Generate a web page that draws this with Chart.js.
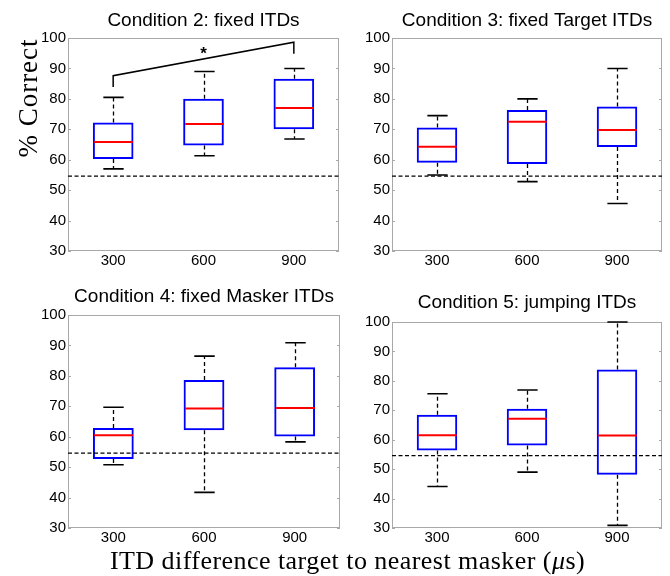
<!DOCTYPE html>
<html>
<head>
<meta charset="utf-8">
<script src="https://cdn.jsdelivr.net/npm/chart.js@4.4.1/dist/chart.umd.min.js"></script>
<style>
  body { margin: 0; background: #fff; }
  #wrap { position: relative; width: 670px; height: 576px; overflow: hidden; background: #fff; }
  #wrap canvas { position: absolute; }
  #ytitle {
    position: absolute; left: 28px; top: 98px; width: 200px; height: 28px; margin-left: -100px; margin-top: -14px;
    text-align: center; font-family: 'Liberation Serif', serif; font-size: 27px; line-height: 28px;
    letter-spacing: 1px; white-space: nowrap;
    transform: rotate(-90deg);
  }
  #xtitle {
    position: absolute; left: 47.5px; width: 600px; top: 548px; text-align: center; white-space: nowrap;
    font-family: 'Liberation Serif', serif; font-size: 26px; line-height: 26px; letter-spacing: 0.45px;
  }
</style>
</head>
<body>
<div id="wrap">
  <canvas id="c2" width="344" height="276" style="left:0;top:0"></canvas>
  <canvas id="c3" width="337" height="276" style="left:330px;top:0"></canvas>
  <canvas id="c4" width="345" height="272" style="left:0;top:280px"></canvas>
  <canvas id="c5" width="337" height="272" style="left:330px;top:280px"></canvas>
  <div id="ytitle">% Correct</div>
  <div id="xtitle">ITD difference target to nearest masker (<i>μ</i>s)</div>
</div>
<script>
// ITD difference (µs)
const categories = ['300', '600', '900'];

// Condition 2: fixed ITDs
const c2Min = [57.0, 61.3, 66.8];
const c2Q1  = [60.2, 64.7, 70.0];
const c2Med = [65.8, 71.7, 77.0];
const c2Q3  = [72.2, 80.0, 86.6];
const c2Max = [80.5, 89.0, 90.0];

// Condition 3: fixed Target ITDs
const c3Min = [55.0, 52.8, 45.6];
const c3Q1  = [59.0, 58.6, 64.2];
const c3Med = [64.3, 72.5, 69.8];
const c3Q3  = [70.6, 76.3, 77.5];
const c3Max = [74.5, 80.0, 90.0];

// Condition 4: fixed Masker ITDs
const c4Min = [50.8, 41.7, 58.3];
const c4Q1  = [52.7, 62.1, 60.1];
const c4Med = [60.5, 69.3, 69.4];
const c4Q3  = [62.9, 78.6, 82.8];
const c4Max = [69.7, 86.5, 90.9];

// Condition 5: jumping ITDs
const c5Min = [44.1, 49.0, 30.9];
const c5Q1  = [56.3, 58.0, 48.1];
const c5Med = [61.5, 67.1, 61.4];
const c5Q3  = [68.5, 70.5, 83.9];
const c5Max = [75.6, 76.9, 100.0];

const chanceLevel = 54.6;

// significance bracket in condition 2 (300 vs 900)
const sigX = ['300', '300', '900', '900'];
const sigY = [83.9, 87.6, 98.6, 94.8];
const sigStarX = '600';
const sigStarY = 96;

function boxParts(st) {
  return {
    id: 'boxParts',
    afterDatasetsDraw(chart) {
      const { ctx, chartArea: a, scales: { x, y } } = chart;
      ctx.save();
      // frame + inner ticks
      ctx.strokeStyle = '#a8a8a8';
      ctx.lineWidth = 1;
      ctx.strokeRect(a.left + 0.5, a.top + 0.5, a.width - 1, a.height - 1);
      y.ticks.forEach(t => {
        const py = Math.round(y.getPixelForValue(t.value)) + 0.5;
        ctx.beginPath();
        ctx.moveTo(a.left, py); ctx.lineTo(a.left + 3, py);
        ctx.moveTo(a.right - 3, py); ctx.lineTo(a.right, py);
        ctx.stroke();
      });
      // chance line
      ctx.strokeStyle = '#000';
      ctx.lineWidth = 1.3;
      ctx.setLineDash([4, 2.5]);
      const cy = y.getPixelForValue(chanceLevel);
      ctx.beginPath(); ctx.moveTo(a.left, cy); ctx.lineTo(a.right, cy); ctx.stroke();

      const bars = chart.getDatasetMeta(0).data;
      bars.forEach((bar, i) => {
        const cx = Math.round(x.getPixelForValue(i)) + 0.5;
        const hw = bar.width / 2;
        // whiskers
        ctx.strokeStyle = '#000';
        ctx.lineWidth = 1.3;
        ctx.setLineDash([4, 3]);
        ctx.beginPath();
        ctx.moveTo(cx, y.getPixelForValue(st.q3[i])); ctx.lineTo(cx, y.getPixelForValue(st.max[i]));
        ctx.moveTo(cx, y.getPixelForValue(st.q1[i])); ctx.lineTo(cx, y.getPixelForValue(st.min[i]));
        ctx.stroke();
        ctx.setLineDash([]);
        ctx.lineWidth = 1.6;
        ctx.beginPath();
        [st.max[i], st.min[i]].forEach(v => {
          const py = y.getPixelForValue(v);
          ctx.moveTo(cx - hw / 2, py); ctx.lineTo(cx + hw / 2, py);
        });
        ctx.stroke();
        // median
        ctx.strokeStyle = '#ff0000';
        ctx.lineWidth = 2;
        const my = y.getPixelForValue(st.med[i]);
        ctx.beginPath(); ctx.moveTo(cx - hw + 1, my); ctx.lineTo(cx + hw - 1, my); ctx.stroke();
      });
      if (st.star) {
        ctx.fillStyle = '#000';
        ctx.font = 'bold 17px "Liberation Sans", Arial, sans-serif';
        ctx.textAlign = 'center';
        ctx.textBaseline = 'middle';
        ctx.fillText('*', x.getPixelForValue(categories.indexOf(sigStarX)), y.getPixelForValue(sigStarY) + 4);
      }
      ctx.restore();
    }
  };
}

function makePanel(id, title, st, lay) {
  const datasets = [{
    type: 'bar',
    data: st.q1.map((v, i) => [v, st.q3[i]]),
    backgroundColor: 'rgba(255,255,255,0)',
    borderColor: '#0000ff',
    borderWidth: 2,
    borderSkipped: false,
    categoryPercentage: 1,
    barPercentage: 0.45
  }];
  if (st.star) {
    datasets.push({
      type: 'line',
      data: sigX.map((v, i) => ({ x: v, y: sigY[i] })),
      borderColor: '#000',
      borderWidth: 1.5,
      pointRadius: 0,
      fill: false
    });
  }
  return new Chart(document.getElementById(id), {
    type: 'bar',
    data: { labels: categories, datasets },
    options: {
      responsive: false,
      animation: false,
      layout: { padding: { left: 0, right: lay.padRight, top: 0, bottom: 0 } },
      plugins: {
        legend: { display: false },
        tooltip: { enabled: false },
        title: {
          display: true,
          fullSize: false,
          text: title,
          color: '#000',
          font: { family: '"Liberation Sans", Arial, sans-serif', size: 19, weight: 'normal', lineHeight: 1 },
          padding: { top: lay.titleTop, bottom: lay.titleBottom }
        }
      },
      scales: {
        x: {
          grid: { display: false, drawTicks: false },
          border: { display: false },
          ticks: { color: '#000', padding: 2, font: { family: '"Liberation Sans", Arial, sans-serif', size: 15, lineHeight: 1 } },
          afterFit: s => { s.height = lay.xHeight; }
        },
        y: {
          min: 30, max: 100,
          grid: { display: false, drawTicks: false },
          border: { display: false },
          ticks: { stepSize: 10, color: '#000', padding: 2, font: { family: '"Liberation Sans", Arial, sans-serif', size: 15 } },
          afterFit: s => { s.width = lay.yWidth; }
        }
      }
    },
    plugins: [boxParts(st)]
  });
}

makePanel('c2', 'Condition 2: fixed ITDs',
  { min: c2Min, q1: c2Q1, med: c2Med, q3: c2Q3, max: c2Max, star: true },
  { yWidth: 68, xHeight: 25, padRight: 5, titleTop: 11, titleBottom: 8 });
makePanel('c3', 'Condition 3: fixed Target ITDs',
  { min: c3Min, q1: c3Q1, med: c3Med, q3: c3Q3, max: c3Max },
  { yWidth: 62, xHeight: 25, padRight: 5, titleTop: 11, titleBottom: 8 });
makePanel('c4', 'Condition 4: fixed Masker ITDs',
  { min: c4Min, q1: c4Q1, med: c4Med, q3: c4Q3, max: c4Max },
  { yWidth: 68, xHeight: 24, padRight: 5, titleTop: 7, titleBottom: 9 });
makePanel('c5', 'Condition 5: jumping ITDs',
  { min: c5Min, q1: c5Q1, med: c5Med, q3: c5Q3, max: c5Max },
  { yWidth: 62, xHeight: 24, padRight: 5, titleTop: 13, titleBottom: 10 });
</script>
</body>
</html>
